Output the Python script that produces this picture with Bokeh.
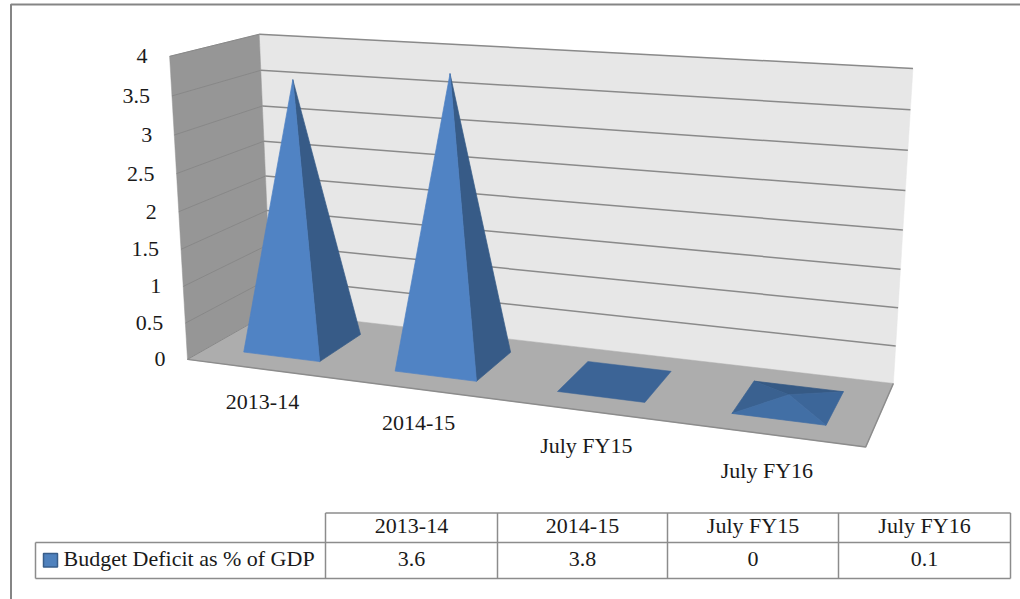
from bokeh.embed import file_html
from bokeh.resources import INLINE
from bokeh.plotting import figure
from bokeh.core.properties import value
import numpy as np

categories = ["2013-14", "2014-15", "July FY15", "July FY16"]
deficit = [3.6, 3.8, 0, 0.1]
series_name = "Budget Deficit as % of GDP"
y_ticks = [0, 0.5, 1, 1.5, 2, 2.5, 3, 3.5, 4]
y_tick_labels = ["0", "0.5", "1", "1.5", "2", "2.5", "3", "3.5", "4"]
table_values = ["3.6", "3.8", "0", "0.1"]

FONT = value("Liberation Serif")
W, H = 1020, 599

# Camera calibration: (category position, value, depth) -> page pixel
calib = [((0, 0, 0), (187, 359)), ((4, 0, 0), (865, 446.7)),
         ((0, 0, 1), (271, 311)), ((4, 0, 1), (893, 382.7)),
         ((0, 4, 1), (258.5, 34)), ((4, 4, 1), (912.5, 68)),
         ((0, 4, 0), (169.3, 55.5))]
A, b = [], []
for (X, Y, Z), (x, y) in calib:
    A.append([X, Y, Z, 1, 0, 0, 0, 0, -x * X, -x * Y, -x * Z]); b.append(x)
    A.append([0, 0, 0, 0, X, Y, Z, 1, -y * X, -y * Y, -y * Z]); b.append(y)
m = np.linalg.lstsq(np.array(A, float), np.array(b, float), rcond=None)[0]
P = np.append(m, 1.0).reshape(3, 4)


def proj(u, v, w):
    q = P @ np.array([u, v, w, 1.0])
    return float(q[0] / q[2]), float(q[1] / q[2])


def poly(*pts):
    c = [proj(*t) for t in pts]
    return [a for a, _ in c], [d for _, d in c]


p = figure(width=W, height=H, x_range=(0, W), y_range=(H, 0), toolbar_location=None,
           output_backend="svg", min_border=0, margin=(0, 0, 0, 0))
p.axis.visible = False
p.grid.visible = False
p.outline_line_color = None
p.background_fill_color = "#ffffff"

# Outer frame
p.multi_line([[10.5, 10.5, W], ], [[H, 4, 4], ], line_color="#858585", line_width=2)

# Walls and floor
for face, col in [(((0, 0, 1), (4, 0, 1), (4, 4, 1), (0, 4, 1)), "#e7e7e7"),
                  (((0, 0, 0), (0, 0, 1), (0, 4, 1), (0, 4, 0)), "#969696"),
                  (((0, 0, 0), (4, 0, 0), (4, 0, 1), (0, 0, 1)), "#adadad")]:
    xs, ys = poly(*face)
    p.patch(xs, ys, fill_color=col, line_color=col, line_width=0.5)

# Gridlines
for t in y_ticks:
    xs, ys = poly((0, t, 1), (4, t, 1))
    if t > 0:
        p.line(xs, ys, line_color="#8a8a8a", line_width=1.5)
    xs, ys = poly((0, t, 0), (0, t, 1))
    p.line(xs, ys, line_color="#888888", line_width=1)
xs, ys = poly((0, 0, 0), (4, 0, 0), (4, 0, 1))
p.line(xs, ys, line_color="#8c8c8c", line_width=1.5)

# Pyramids
BW = 0.255
D0, D1 = 0.23, 0.77
for i, val in enumerate(deficit):
    c = i + 0.5
    mid = (D0 + D1) / 2
    fl, fr = (c - BW, 0, D0), (c + BW, 0, D0)
    bl, br = (c - BW, 0, D1), (c + BW, 0, D1)
    apex = (c, val, mid)
    if val == 0:
        xs, ys = poly(fl, fr, br, bl)
        p.patch(xs, ys, fill_color="#3c6496", line_color="#3c6496", line_width=0.5)
        continue
    if val < 1:
        faces = [((bl, br, apex), "#365a85"), ((fl, bl, apex), "#3a6190"),
                 ((fr, br, apex), "#3c6699"), ((fl, fr, apex), "#426fa5")]
    else:
        faces = [((fr, br, apex), "#375b87"), ((fl, fr, apex), "#5083c4")]
    for pts, col in faces:
        xs, ys = poly(*pts)
        p.patch(xs, ys, fill_color=col, line_color=col, line_width=0.7)

# Value axis labels
for t, lab in zip(y_ticks, y_tick_labels):
    x, y = proj(0, t, 0)
    p.text([x - 22], [y], text=[lab], text_font=FONT, text_font_size="22px",
           text_color="#1a1a1a", text_align="right", text_baseline="middle")

# Category labels
for i, lab in enumerate(categories):
    x, y = proj(i + 0.5, -0.45, 0)
    p.text([x - 1], [y], text=[lab], text_font=FONT, text_font_size="22px",
           text_color="#1a1a1a", text_align="center", text_baseline="middle")

# Data table
col_edges = [325, 497, 667, 838, 1010]
rows = [512.5, 542, 578]
LINE = "#8c8c8c"
p.multi_line([[325, 1010], [35, 1010], [35, 1010]], [[rows[0]] * 2, [rows[1]] * 2, [rows[2]] * 2],
             line_color=LINE, line_width=1.5)
p.multi_line([[35, 35]] + [[e, e] for e in col_edges],
             [[rows[1], rows[2]]] + [[rows[0], rows[2]]] * 5, line_color=LINE, line_width=1.5)
p.quad(left=[43], right=[57], top=[553], bottom=[566.5], fill_color="#4f81bd", line_color="#385d8a", line_width=1.5)
p.text([63], [(rows[1] + rows[2]) / 2 - 2], text=[series_name], text_font=FONT, text_font_size="22px",
       text_color="#1a1a1a", text_align="left", text_baseline="middle")
for i in range(4):
    cx = (col_edges[i] + col_edges[i + 1]) / 2
    p.text([cx], [(rows[0] + rows[1]) / 2 - 2], text=[categories[i]], text_font=FONT, text_font_size="22px",
           text_color="#1a1a1a", text_align="center", text_baseline="middle")
    p.text([cx], [(rows[1] + rows[2]) / 2 - 2], text=[table_values[i]], text_font=FONT, text_font_size="22px",
           text_color="#1a1a1a", text_align="center", text_baseline="middle")

open("out.html", "w").write(file_html(p, INLINE))
